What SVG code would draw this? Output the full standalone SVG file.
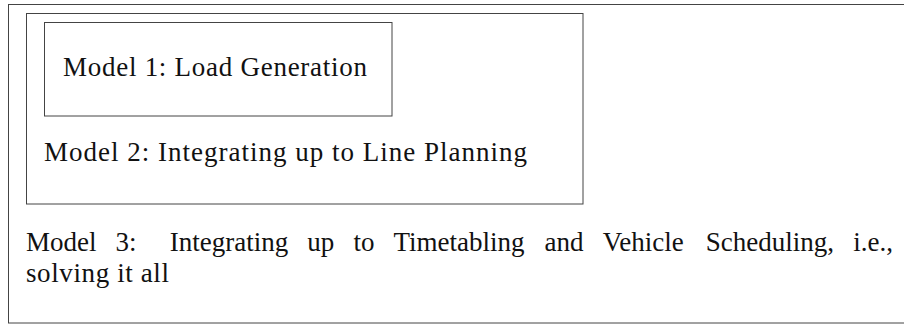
<svg xmlns="http://www.w3.org/2000/svg" width="904" height="325" viewBox="0 0 904 325">
  <style>
    .box { fill: none; stroke: #444; stroke-width: 1; }
    .lbl { font-family: "Liberation Serif", "Times New Roman", serif; font-size: 27px; fill: #111; }
  </style>
  <rect x="0" y="0" width="904" height="325" fill="#fff"/>
  <g id="model3">
    <rect class="box" x="8.5" y="4.5" width="910" height="318.5"/>
    <text class="lbl" y="251"><tspan x="26">Model</tspan><tspan x="115.6">3:</tspan><tspan x="169.7">Integrating</tspan><tspan x="307.3">up</tspan><tspan x="353.4">to</tspan><tspan x="393.5">Timetabling</tspan><tspan x="544.6">and</tspan><tspan x="602.7">Vehicle</tspan><tspan x="705.8">Scheduling,</tspan><tspan x="853.2">i.e.,</tspan></text>
    <text class="lbl" x="26" y="282" textLength="143" lengthAdjust="spacing">solving it all</text>
  </g>
  <g id="model2">
    <rect class="box" x="26.5" y="13.5" width="556.5" height="190.5"/>
    <text class="lbl" x="44" y="161" textLength="483" lengthAdjust="spacing">Model 2: Integrating up to Line Planning</text>
  </g>
  <g id="model1">
    <rect class="box" x="44.5" y="22.5" width="347.5" height="93.5"/>
    <text class="lbl" x="63" y="76" textLength="304" lengthAdjust="spacing">Model 1: Load Generation</text>
  </g>
  <g id="connectors"/>
</svg>
